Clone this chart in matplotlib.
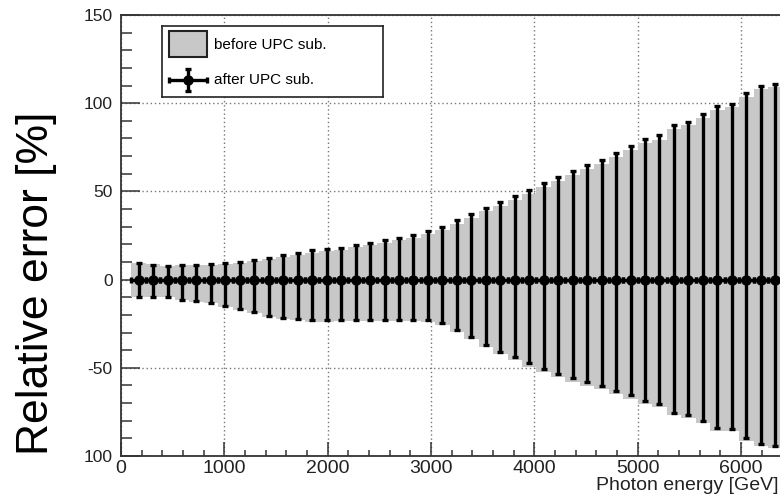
import numpy as np
import matplotlib
matplotlib.use("Agg")
import matplotlib.pyplot as plt
from matplotlib.patches import Rectangle
from matplotlib.ticker import MultipleLocator, FixedLocator, FixedFormatter

plt.rcParams['font.family'] = ['Liberation Sans', 'DejaVu Sans']

# bin centres (GeV), 140 GeV wide bins starting at 100 GeV
energy = np.arange(170, 6400, 140)

# after UPC subtraction: asymmetric errors [%]
err_up = [9.4, 8.5, 7.7, 8.3, 8.5, 8.8, 9.2, 9.9, 11.2, 12.5,
          14.0, 15.2, 16.5, 17.3, 18.0, 19.6, 21.0, 22.5, 23.8, 25.5,
          27.6, 30.0, 33.6, 37.0, 40.8, 44.0, 47.2, 50.9, 54.8, 58.2,
          61.8, 65.0, 68.0, 71.8, 75.5, 79.9, 81.7, 87.8, 89.6, 94.0,
          98.6, 99.6, 105.8, 109.9, 111.0]
err_dn = [10.0, 10.0, 10.0, 11.3, 12.4, 13.1, 15.2, 16.9, 18.4, 20.5,
          21.8, 22.5, 23.1, 23.1, 22.9, 22.9, 22.9, 22.9, 22.9, 22.9,
          22.9, 24.6, 28.7, 32.5, 36.8, 40.8, 44.1, 47.5, 50.4, 53.4,
          56.0, 58.2, 60.3, 63.1, 65.6, 68.8, 70.5, 75.4, 76.9, 80.0,
          84.2, 84.7, 90.0, 93.0, 94.1]

# before UPC subtraction: band [%]
band_up = [9.6, 8.6, 7.7, 8.2, 8.3, 8.5, 8.8, 9.3, 10.4, 11.6,
           13.0, 14.1, 15.3, 16.1, 16.8, 18.3, 19.6, 21.0, 22.2, 23.8,
           25.8, 28.2, 31.7, 35.0, 38.8, 42.0, 45.2, 48.7, 52.5, 55.9,
           59.5, 62.7, 65.7, 69.5, 73.2, 77.5, 79.4, 85.5, 87.4, 91.8,
           96.4, 97.6, 103.7, 107.8, 109.0]
band_dn = [10.0, 10.0, 10.1, 11.5, 12.6, 13.4, 15.5, 17.3, 18.8, 21.0,
           22.4, 23.1, 23.8, 23.9, 23.7, 23.7, 23.7, 23.7, 23.7, 23.7,
           23.8, 25.6, 29.9, 33.8, 38.2, 42.4, 45.8, 49.3, 52.3, 55.3,
           57.9, 60.1, 62.2, 65.0, 67.5, 70.6, 72.2, 77.0, 78.5, 81.5,
           85.6, 86.1, 91.4, 94.4, 95.5]

yticks = [-100, -50, 0, 50, 100, 150]
ylabels = ["100", "-50", "0", "50", "100", "150"]

W, H = 780, 496
fig = plt.figure(figsize=(W/100, H/100), dpi=100)
ax = fig.add_axes([121/W, 40/H, (790-121)/W, 441/H])

gray = "#c8c8c8"
zero = np.zeros(len(energy))
edges = np.append(energy - 70, energy[-1] + 70)
ax.stairs(np.array(band_up), edges, baseline=-np.array(band_dn), fill=True,
          color=gray, zorder=2, lw=0)

ax.errorbar(energy, zero, yerr=[err_dn, err_up], xerr=70, fmt='o', color='black',
            ms=6.5, elinewidth=2.4, capsize=2, capthick=2.4, zorder=3)

ax.set_xlim(0, 6473)
ax.set_ylim(-100, 150)

ax.yaxis.set_major_locator(FixedLocator(yticks))
ax.yaxis.set_major_formatter(FixedFormatter(ylabels))
ax.yaxis.set_minor_locator(MultipleLocator(10))
ax.xaxis.set_major_locator(MultipleLocator(1000))
ax.xaxis.set_minor_locator(MultipleLocator(200))

ax.tick_params(axis='y', which='major', direction='in', length=14, width=1.1,
               labelsize=12.5, pad=6, colors='#333333')
ax.tick_params(axis='y', which='minor', direction='in', length=8, width=1.1,
               colors='#333333')
ax.tick_params(axis='x', which='major', direction='in', length=10, width=1.1,
               labelsize=14, pad=3, colors='#333333')
ax.tick_params(axis='x', which='minor', direction='in', length=4.5, width=1.1,
               colors='#333333')
for lab in ax.get_xticklabels() + ax.get_yticklabels():
    lab.set_color('#222222')

ax.grid(True, which='major', color='#777777', linestyle=(0, (1, 2)), lw=1, zorder=0)
ax.set_axisbelow(True)
for s in ['left', 'bottom', 'top']:
    ax.spines[s].set_color('#333333')
    ax.spines[s].set_linewidth(1.3)
ax.spines['right'].set_visible(False)

fig.text(37/W, 1 - 283/H, "Relative error [%]", rotation=90, fontsize=32,
         ha='center', va='center')
fig.text(778/W, 1 - 486/H, "Photon energy [GeV]", fontsize=14,
         ha='right', va='center', color='#222222')

# legend box
lx0, ly0, lx1, ly1 = 161.7, 26, 383, 97.3
lax = fig.add_axes([lx0/W, 1 - ly1/H, (lx1-lx0)/W, (ly1-ly0)/H])
lax.set_xlim(lx0, lx1)
lax.set_ylim(ly1, ly0)
lax.set_xticks([])
lax.set_yticks([])
for s in lax.spines.values():
    s.set_linewidth(1.2)
    s.set_color('#222222')
lax.add_patch(Rectangle((169, 31), 38, 26, facecolor=gray, edgecolor='#222222', lw=1.5))
lax.text(214, 44.5, "before UPC sub.", fontsize=11, va='center', ha='left')
lax.errorbar([188], [80], yerr=[[11], [11]], xerr=[[19], [19]], fmt='o', color='black',
             ms=6.5, elinewidth=2.4, capsize=2, capthick=2.4)
lax.text(214, 80, "after UPC sub.", fontsize=11, va='center', ha='left')

fig.savefig("out.png", dpi=100)
